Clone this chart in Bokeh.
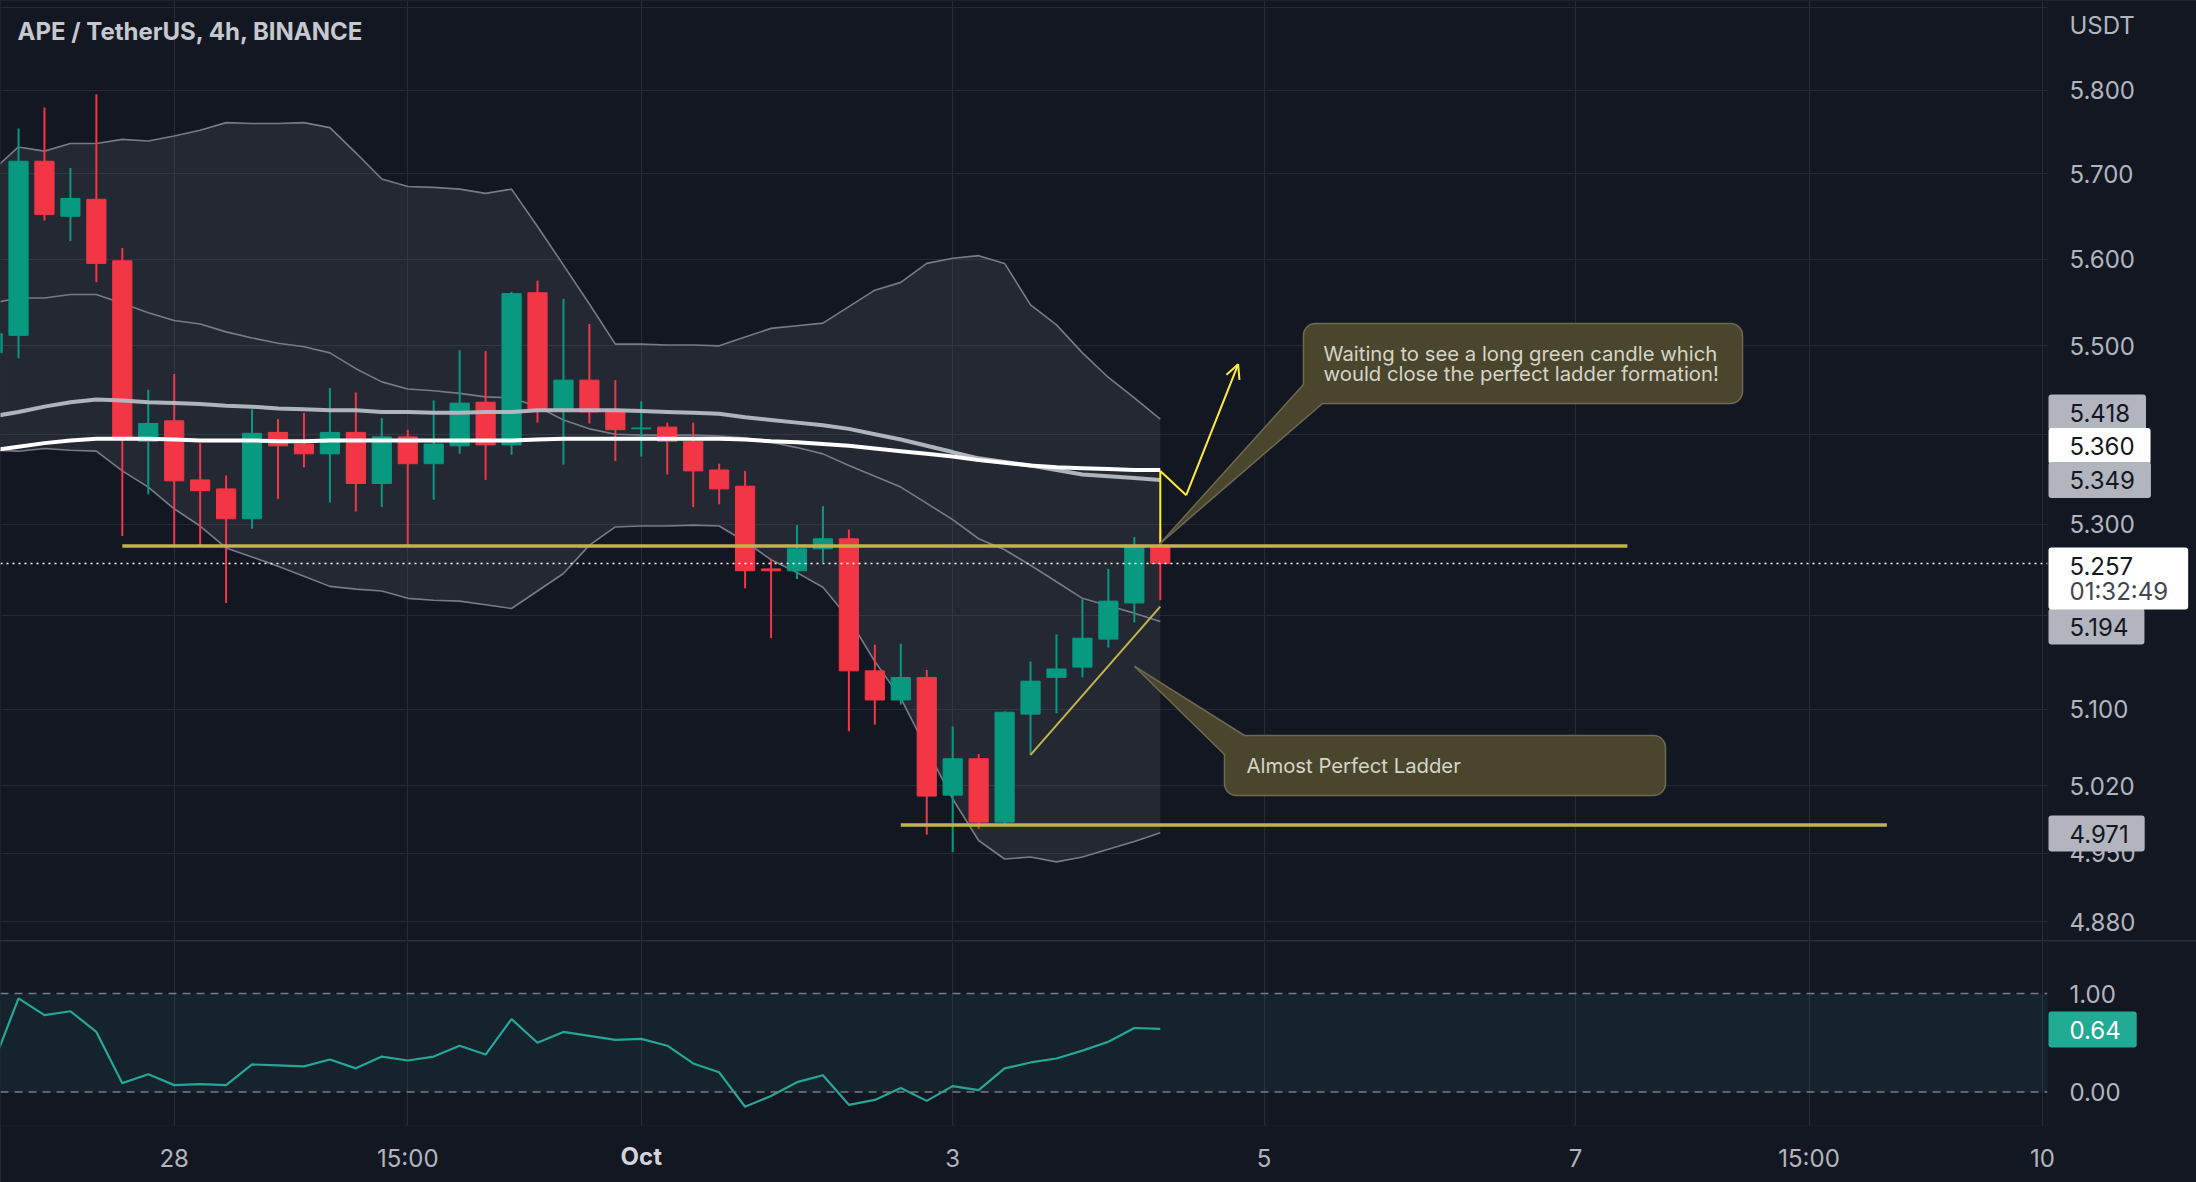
import math
from bokeh.plotting import figure
from bokeh.layouts import column
from bokeh.models import (Range1d, FixedTicker, NumeralTickFormatter, Span, Label,
                          Arrow, OpenHead, BoxAnnotation, Grid)
from bokeh.embed import file_html
from bokeh.resources import INLINE

# ------------------------------------------------------------------ data
# 4h bars of APE/USDT; bar 0 = 28 Sep 00:00
bar_index = list(range(-7, 39))

opens = [5.492, 5.512, 5.715, 5.650, 5.670, 5.598, 5.392,
         5.415, 5.349, 5.339, 5.306, 5.402, 5.389, 5.378, 5.402, 5.345, 5.397,
         5.367, 5.387, 5.436, 5.388, 5.561, 5.428, 5.461, 5.425, 5.406, 5.408,
         5.392, 5.360, 5.342, 5.251, 5.249, 5.273, 5.284, 5.141, 5.110, 5.134,
         5.010, 5.048, 4.982, 5.095, 5.134, 5.145, 5.175, 5.214, 5.275]
highs = [5.525, 5.754, 5.779, 5.707, 5.795, 5.613, 5.450,
         5.468, 5.390, 5.354, 5.428, 5.417, 5.424, 5.452, 5.447, 5.418, 5.405,
         5.438, 5.495, 5.494, 5.562, 5.575, 5.554, 5.525, 5.461, 5.437, 5.413,
         5.413, 5.367, 5.359, 5.262, 5.299, 5.320, 5.294, 5.169, 5.170, 5.142,
         5.082, 5.053, 5.098, 5.151, 5.180, 5.218, 5.251, 5.286, 5.295]
lows = [5.485, 5.486, 5.645, 5.621, 5.573, 5.287, 5.333,
        5.275, 5.275, 5.214, 5.295, 5.328, 5.363, 5.324, 5.314, 5.319, 5.275,
        5.327, 5.378, 5.349, 5.377, 5.413, 5.366, 5.412, 5.370, 5.375, 5.355,
        5.319, 5.322, 5.230, 5.176, 5.240, 5.258, 5.077, 5.084, 5.105, 4.969,
        4.951, 4.975, 4.980, 5.052, 5.096, 5.134, 5.166, 5.193, 5.217]
closes = [5.514, 5.715, 5.652, 5.671, 5.595, 5.396, 5.412,
          5.348, 5.337, 5.306, 5.401, 5.387, 5.378, 5.402, 5.345, 5.397, 5.367,
          5.389, 5.435, 5.388, 5.560, 5.428, 5.461, 5.425, 5.405, 5.407, 5.392,
          5.359, 5.339, 5.249, 5.249, 5.273, 5.284, 5.141, 5.110, 5.134, 5.009,
          5.048, 4.982, 5.097, 5.130, 5.143, 5.176, 5.216, 5.275, 5.257]

bb_upper = [5.704, 5.732, 5.727, 5.736, 5.736, 5.741, 5.739,
            5.745, 5.752, 5.761, 5.760, 5.760, 5.761, 5.755, 5.725, 5.694, 5.685,
            5.684, 5.682, 5.677, 5.682, 5.638, 5.593, 5.548, 5.502, 5.502, 5.501,
            5.501, 5.500, 5.510, 5.520, 5.523, 5.526, 5.545, 5.564, 5.573, 5.595,
            5.601, 5.604, 5.595, 5.547, 5.524, 5.492, 5.464, 5.441, 5.417]
bb_basis = [5.549, 5.555, 5.555, 5.559, 5.559, 5.549, 5.538,
            5.529, 5.525, 5.516, 5.509, 5.503, 5.499, 5.492, 5.474, 5.459, 5.451,
            5.449, 5.446, 5.442, 5.441, 5.431, 5.416, 5.406, 5.400, 5.399, 5.399,
            5.399, 5.398, 5.396, 5.391, 5.385, 5.378, 5.365, 5.353, 5.341, 5.323,
            5.305, 5.284, 5.272, 5.255, 5.237, 5.219, 5.211, 5.203, 5.194]
bb_lower = [5.382, 5.381, 5.384, 5.382, 5.381, 5.359, 5.341,
            5.317, 5.298, 5.274, 5.264, 5.254, 5.243, 5.232, 5.229, 5.227, 5.219,
            5.217, 5.216, 5.212, 5.208, 5.227, 5.246, 5.277, 5.297, 5.298, 5.298,
            5.299, 5.298, 5.281, 5.261, 5.247, 5.231, 5.197, 5.151, 5.112, 5.058,
            5.006, 4.963, 4.944, 4.946, 4.941, 4.946, 4.954, 4.962, 4.971]
ma_white = [5.382, 5.386, 5.390, 5.393, 5.395, 5.395, 5.395,
            5.394, 5.393, 5.393, 5.393, 5.392, 5.392, 5.393, 5.393, 5.393, 5.393,
            5.393, 5.393, 5.393, 5.393, 5.394, 5.395, 5.395, 5.395, 5.395, 5.395,
            5.395, 5.395, 5.394, 5.392, 5.391, 5.389, 5.387, 5.384, 5.381, 5.378,
            5.375, 5.371, 5.368, 5.365, 5.363, 5.362, 5.361, 5.360, 5.360]
ma_gray = [5.420, 5.425, 5.431, 5.436, 5.439, 5.438, 5.436,
           5.435, 5.434, 5.432, 5.431, 5.429, 5.428, 5.427, 5.427, 5.425, 5.425,
           5.424, 5.424, 5.425, 5.425, 5.427, 5.427, 5.427, 5.427, 5.426, 5.425,
           5.424, 5.423, 5.419, 5.416, 5.413, 5.410, 5.406, 5.400, 5.394, 5.387,
           5.380, 5.373, 5.369, 5.365, 5.360, 5.355, 5.353, 5.351, 5.349]
stoch_k = [0.27, 0.95, 0.78, 0.82, 0.61, 0.09, 0.18,
           0.07, 0.08, 0.07, 0.28, 0.27, 0.26, 0.33, 0.24, 0.36, 0.32,
           0.36, 0.47, 0.38, 0.74, 0.50, 0.61, 0.57, 0.53, 0.54, 0.47,
           0.29, 0.20, -0.15, -0.04, 0.10, 0.17, -0.13, -0.08, 0.04, -0.09,
           0.06, 0.02, 0.24, 0.30, 0.34, 0.42, 0.51, 0.65, 0.64]

price_ticks = [4.88, 4.95, 5.02, 5.10, 5.20, 5.30, 5.40, 5.50, 5.60, 5.70, 5.80, 5.90]
hidden_price_ticks = [5.20, 5.40, 5.90]
time_ticks = [0, 9, 18, 30, 42, 54, 63, 72]
time_labels = ["28", "15:00", "Oct", "3", "5", "7", "15:00", "10"]
osc_ticks = [0, 1]
osc_labels = ["0.00", "1.00"]

last_price = 5.257
countdown = "01:32:49"
# price tags on the scale
tag_values = [5.418, 5.360, 5.349, 5.194, 4.971]
tag_texts = ["5.418", "5.360", "5.349", "5.194", "4.971"]
osc_last = 0.64

# drawings (bar index, price)
resistance_price = 5.276
resistance_x = [-2, 56]
support_price = 4.979
support_x = [28, 66]
ladder_x = [33, 38]
ladder_y = [5.052, 5.210]
path_x = [38, 38, 39]
path_y = [5.279, 5.359, 5.332]
arrow_tip = (41, 5.479)
note1_lines = ["Waiting to see a long green candle which",
               "would close the perfect ladder formation!"]
note2_text = "Almost Perfect Ladder"
note1_anchor = (38, 5.279)
note2_anchor = (37, 5.146)

# ------------------------------------------------------------------ view
FRAME_W, FRAME_H, OSC_H = 2047, 940, 184
X0, X1 = -6.694, 72.19
Y_TOP, Y_BOT = 5.909, 4.861
O_BOT, O_TOP = -0.34, 1.528

def px_x(px):
    return X0 + px * (X1 - X0) / FRAME_W

def px_price(py):
    a, b = math.log(Y_TOP), math.log(Y_BOT)
    return math.exp(a - py / FRAME_H * (a - b))

def px_osc(py):
    return O_TOP - py / OSC_H * (O_TOP - O_BOT)

BG = "#131722"
GRID = "#262a35"
AXIS_TXT = "#b2b5be"
UP, DOWN = "#089981", "#f23645"
FONT = "Inter"
AX_FS = "24px"
BB_COL = "#787b86"
NOTE_FILL, NOTE_EDGE, NOTE_TXT = "#4a462d", "#6e6a50", "#d6d4c8"
LEVEL_COL = "#c2b447"
ARROW_COL = "#ffeb3b"
SCALE_X = 2048          # left edge of the price-scale tags (px)
SCALE_TXT_X = 2069      # left edge of price-scale texts (px)

p = figure(frame_width=FRAME_W, frame_height=FRAME_H,
           x_range=Range1d(X0, X1), y_range=Range1d(Y_BOT, Y_TOP),
           y_axis_type="log", x_axis_location=None, y_axis_location="right",
           output_backend="svg", toolbar_location=None,
           background_fill_color=BG, border_fill_color=BG, outline_line_color=None,
           min_border_left=0, min_border_top=0, min_border_bottom=0, min_border_right=149)

p.ygrid.ticker = FixedTicker(ticks=price_ticks)
p.ygrid.grid_line_color = GRID
p.ygrid.grid_line_width = 1.2
p.xgrid.visible = False
p.add_layout(Grid(dimension=0, ticker=FixedTicker(ticks=time_ticks),
                  grid_line_color=GRID, grid_line_width=1.2))

ya = p.yaxis[0]
ya.ticker = FixedTicker(ticks=price_ticks)
ya.formatter = NumeralTickFormatter(format="0.000")
ya.major_label_overrides = {t: "" for t in hidden_price_ticks}
ya.axis_line_color = None
ya.major_tick_line_color = None
ya.minor_tick_line_color = None
ya.major_tick_out = 0
ya.major_tick_in = 0
ya.major_label_standoff = 22
ya.major_label_text_color = AXIS_TXT
ya.major_label_text_font = FONT
ya.major_label_text_font_size = AX_FS

# Bollinger bands
p.varea(x=bar_index, y1=bb_lower, y2=bb_upper, fill_color=BB_COL, fill_alpha=0.17)
for s in (bb_upper, bb_basis, bb_lower):
    p.line(bar_index, s, line_color=BB_COL, line_width=1.6)

# candles
colors = [UP if c >= o else DOWN for o, c in zip(opens, closes)]
p.segment(x0=bar_index, y0=lows, x1=bar_index, y1=highs, line_color=colors, line_width=2)
p.vbar(x=bar_index, width=0.74,
       top=[max(o, c) for o, c in zip(opens, closes)],
       bottom=[min(o, c) for o, c in zip(opens, closes)],
       fill_color=colors, line_color=colors, line_width=1)

# moving averages
p.line(bar_index, ma_gray, line_color="#b7bac3", line_width=4, line_alpha=0.95)
p.line(bar_index, ma_white, line_color="#ffffff", line_width=4)

# current price line
p.add_layout(Span(location=last_price, dimension="width", line_color="#ffffff",
                  line_dash="2 4", line_width=1.5))

# drawings
p.line(resistance_x, [resistance_price] * 2, line_color=LEVEL_COL, line_width=3.5)
p.line(support_x, [support_price] * 2, line_color=LEVEL_COL, line_width=3.5)
p.line(ladder_x, ladder_y, line_color=LEVEL_COL, line_width=2)
p.line(path_x, path_y, line_color=ARROW_COL, line_width=2)
p.add_layout(Arrow(x_start=path_x[-1], y_start=path_y[-1], x_end=arrow_tip[0], y_end=arrow_tip[1],
                   line_color=ARROW_COL, line_width=2,
                   end=OpenHead(size=14, line_color=ARROW_COL, line_width=2)))

NOTE_FS = "20.3px"
# callout 1
b1 = dict(l=px_x(1303), r=px_x(1742), t=px_price(323), b=px_price(403))
p.quad(left=[b1["l"]], right=[b1["r"]], top=[b1["t"]], bottom=[b1["b"]],
       fill_color=NOTE_FILL, line_color=NOTE_EDGE, line_width=1.5, border_radius=12)
t1 = [(px_x(1303), px_price(384)), (px_x(1322), px_price(403)), note1_anchor]
p.patch([q_[0] for q_ in t1], [q_[1] for q_ in t1], fill_color=NOTE_FILL, line_color=None)
for a in t1[:2]:
    p.line([a[0], note1_anchor[0]], [a[1], note1_anchor[1]], line_color=NOTE_EDGE, line_width=1.5)
for k, line in enumerate(note1_lines):
    p.add_layout(Label(x=px_x(1323), y=px_price(353 + 20 * k), text=line,
                       text_font=FONT, text_font_size=NOTE_FS, text_color=NOTE_TXT,
                       text_align="left", text_baseline="middle"))

# callout 2
b2 = dict(l=px_x(1224), r=px_x(1665), t=px_price(735), b=px_price(795))
p.quad(left=[b2["l"]], right=[b2["r"]], top=[b2["t"]], bottom=[b2["b"]],
       fill_color=NOTE_FILL, line_color=NOTE_EDGE, line_width=1.5, border_radius=12)
t2 = [(px_x(1224), px_price(754)), (px_x(1244), px_price(735)), note2_anchor]
p.patch([q_[0] for q_ in t2], [q_[1] for q_ in t2], fill_color=NOTE_FILL, line_color=None)
for a in t2[:2]:
    p.line([a[0], note2_anchor[0]], [a[1], note2_anchor[1]], line_color=NOTE_EDGE, line_width=1.5)
p.add_layout(Label(x=px_x(1246), y=px_price(765), text=note2_text,
                   text_font=FONT, text_font_size=NOTE_FS, text_color=NOTE_TXT,
                   text_align="left", text_baseline="middle"))

# title
p.add_layout(Label(x=px_x(17), y=px_price(31), text="APE / TetherUS, 4h, BINANCE",
                   text_font=FONT, text_font_size="24px", text_font_style="bold",
                   text_color="#c5c8cf", text_align="left", text_baseline="middle"))

# price scale: currency + tags (in the right side panel so they are not clipped)
p.add_layout(Label(x=px_x(SCALE_TXT_X), y=px_price(25), text="USDT", text_font=FONT,
                   text_font_size=AX_FS, text_color=AXIS_TXT, text_align="left",
                   text_baseline="middle"), "right")
tag_centers = [412, 445.5, 479.5, 626, 833]
tag_fill = ["#b2b5be", "#ffffff", "#b2b5be", "#b2b5be", "#b2b5be"]
for v, txt, cy, fc in zip(tag_values, tag_texts, tag_centers, tag_fill):
    p.add_layout(Label(x=px_x(SCALE_X), y=px_price(cy), text=txt, text_font=FONT,
                       text_font_size=AX_FS, text_color="#131722", text_align="left",
                       text_baseline="middle", background_fill_color=fc,
                       padding=dict(left=21, right=16, top=9, bottom=9), border_radius=3), "right")
# last price tag with countdown (box centred on 578 px, text in its upper half)
p.add_layout(Label(x=px_x(SCALE_X), y=px_price(578), text=f"{last_price:.3f}",
                   text_font=FONT, text_font_size=AX_FS, text_color="#131722",
                   text_align="left", text_baseline="middle", background_fill_color="#ffffff",
                   padding=dict(left=21, right=55, top=9, bottom=35), border_radius=3), "right")
p.add_layout(Label(x=px_x(SCALE_TXT_X), y=px_price(591), text=countdown,
                   text_font=FONT, text_font_size=AX_FS, text_color="#434651",
                   text_align="left", text_baseline="middle"), "right")

# ------------------------------------------------------------------ oscillator pane
q = figure(frame_width=FRAME_W, frame_height=OSC_H, x_range=p.x_range,
           y_range=Range1d(O_BOT, O_TOP), y_axis_location="right",
           output_backend="svg", toolbar_location=None,
           background_fill_color=BG, border_fill_color=BG, outline_line_color=None,
           min_border_left=0, min_border_top=0, min_border_bottom=57, min_border_right=149)
q.ygrid.visible = False
q.xgrid.ticker = FixedTicker(ticks=time_ticks)
q.xgrid.grid_line_color = GRID
q.xgrid.grid_line_width = 1.2
q.add_layout(BoxAnnotation(bottom=0, top=1, fill_color="#26a69a", fill_alpha=0.09,
                           line_color=None, level="underlay"))
for lvl in osc_ticks:
    q.add_layout(Span(location=lvl, dimension="width", line_color=BB_COL,
                      line_dash="8 6", line_width=1.5))
q.line(bar_index, stoch_k, line_color="#26a69a", line_width=2.2)

xa = q.xaxis[0]
xa.ticker = FixedTicker(ticks=time_ticks)
xa.major_label_overrides = {t: ("" if lab == "Oct" else lab) for t, lab in zip(time_ticks, time_labels)}
xa.axis_line_color = None
xa.major_tick_line_color = None
xa.minor_tick_line_color = None
xa.major_tick_out = 0
xa.major_tick_in = 0
xa.major_label_standoff = 18
xa.major_label_text_color = AXIS_TXT
xa.major_label_text_font = FONT
xa.major_label_text_font_size = AX_FS

oa = q.yaxis[0]
oa.ticker = FixedTicker(ticks=osc_ticks)
oa.major_label_overrides = {t: lab for t, lab in zip(osc_ticks, osc_labels)}
oa.axis_line_color = None
oa.major_tick_line_color = None
oa.minor_tick_line_color = None
oa.major_tick_out = 0
oa.major_tick_in = 0
oa.major_label_standoff = 22
oa.major_label_text_color = AXIS_TXT
oa.major_label_text_font = FONT
oa.major_label_text_font_size = AX_FS

q.add_layout(Label(x=px_x(SCALE_X), y=px_osc(1029 - 941), text=f"{osc_last:.2f}", text_font=FONT,
                   text_font_size=AX_FS, text_color="#ffffff", text_align="left",
                   text_baseline="middle", background_fill_color="#22ab94",
                   padding=dict(left=21, right=16, top=9, bottom=9), border_radius=3), "right")
oct_i = time_labels.index("Oct")
q.add_layout(Label(x=time_ticks[oct_i], y=px_osc(215), text="Oct", text_font=FONT,
                   text_font_size=AX_FS, text_font_style="bold", text_color="#d1d4dc",
                   text_align="center", text_baseline="middle"), "below")

layout = column(p, q, spacing=1, styles={"background-color": "#2a2e39"})
open("out.html", "w").write(file_html(layout, INLINE))
